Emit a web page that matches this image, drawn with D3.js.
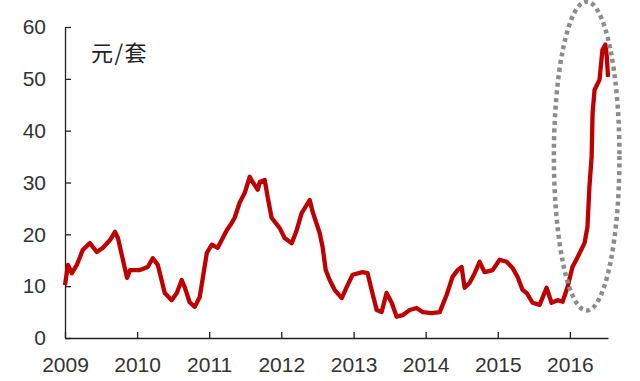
<!DOCTYPE html>
<html>
<head>
<meta charset="utf-8">
<script src="https://cdn.jsdelivr.net/npm/d3@7"></script>
<style>
  html, body { margin: 0; padding: 0; background: #fff; }
  svg { display: block; }
</style>
</head>
<body>
<div id="chart"></div>
<script>
// dates and prices
const dates = [
  '2009-01-01', '2009-01-16', '2009-02-05', '2009-03-02', '2009-04-01', '2009-05-07',
  '2009-06-11', '2009-07-12', '2009-08-17', '2009-09-11', '2009-09-26', '2009-11-11',
  '2009-11-26', '2010-01-15', '2010-02-24', '2010-03-21', '2010-04-16', '2010-05-21',
  '2010-06-25', '2010-07-21', '2010-08-15', '2010-08-30', '2010-09-24', '2010-10-20',
  '2010-11-14', '2010-12-20', '2011-01-14', '2011-02-13', '2011-03-31', '2011-04-25',
  '2011-05-10', '2011-06-04', '2011-06-30', '2011-07-25', '2011-08-09', '2011-09-04',
  '2011-09-14', '2011-10-09', '2011-10-24', '2011-11-13', '2011-12-24', '2012-01-18',
  '2012-02-23', '2012-03-19', '2012-04-13', '2012-05-24', '2012-06-08', '2012-07-13',
  '2012-07-28', '2012-08-13', '2012-09-02', '2012-09-27', '2012-11-02', '2012-11-27',
  '2012-12-27', '2013-02-16', '2013-03-13', '2013-04-02', '2013-04-28', '2013-05-23',
  '2013-06-17', '2013-07-13', '2013-08-07', '2013-09-06', '2013-10-12', '2013-11-16',
  '2013-12-16', '2014-01-31', '2014-03-13', '2014-04-17', '2014-05-17', '2014-06-12',
  '2014-07-02', '2014-07-17', '2014-08-11', '2014-09-06', '2014-10-01', '2014-10-26',
  '2014-12-06', '2015-01-10', '2015-02-15', '2015-03-17', '2015-04-11', '2015-05-06',
  '2015-05-27', '2015-06-26', '2015-08-01', '2015-09-05', '2015-09-30', '2015-10-31',
  '2015-11-25', '2015-12-20', '2016-01-14', '2016-02-09', '2016-03-15', '2016-03-30',
  '2016-04-09', '2016-04-20', '2016-04-25', '2016-05-05', '2016-05-30', '2016-06-14',
  '2016-06-29', '2016-07-06', '2016-07-12'
];
const prices = [
  10.2, 14.1, 12.5, 14.1, 17.0, 18.3,
  16.6, 17.4, 18.9, 20.5, 19.3, 11.6,
  13.1, 13.1, 13.7, 15.4, 14.1, 8.7,
  7.3, 8.7, 11.2, 9.8, 6.9, 6.0,
  7.9, 16.4, 18.0, 17.4, 20.8, 22.2,
  23.2, 26.1, 28.0, 31.1, 30.1, 28.6,
  30.1, 30.5, 27.2, 23.2, 21.2, 19.3,
  18.3, 20.8, 24.1, 26.6, 24.3, 20.3,
  17.6, 13.1, 11.2, 9.3, 7.7, 9.8,
  12.2, 12.7, 12.5, 9.3, 5.4, 5.0,
  8.7, 6.8, 4.1, 4.4, 5.4, 5.8,
  5.0, 4.8, 5.0, 8.3, 11.8, 13.1,
  13.7, 9.7, 10.6, 12.5, 14.7, 12.7,
  13.1, 15.1, 14.7, 13.5, 11.8, 9.3,
  8.7, 6.8, 6.4, 9.7, 6.8, 7.3,
  7.0, 9.8, 13.7, 15.6, 18.3, 21.4,
  29.2, 34.9, 43.4, 47.9, 49.8, 55.6,
  56.6, 54.2, 50.4
];
const yTicks = [0, 10, 20, 30, 40, 50, 60];
const xTicks = ['2009', '2010', '2011', '2012', '2013', '2014', '2015', '2016'];
const unitLabel = '元/套';
// dotted ellipse around the 2016 spike: centre date/value, half width (days), half height (value)
const highlight = { date: '2016-03-26', value: 35.1, halfDays: 166, halfValue: 29.8 };

const width = 640;
const height = 381;
const margin = { top: 27, right: 32, bottom: 43, left: 65 };
const chartWidth = width - margin.left - margin.right;
const chartHeight = height - margin.top - margin.bottom;
const parse = d3.timeParse('%Y-%m-%d');

const data = dates.map((d, i) => ({ date: parse(d), value: prices[i] }));

const svg = d3
  .select('#chart')
  .append('svg')
  .attr('width', width)
  .attr('height', height)
  .append('g')
  .attr('transform', `translate(${margin.left}, ${margin.top})`);

const x = d3
  .scaleTime()
  .range([0, chartWidth])
  .domain([parse('2009-01-01'), parse('2016-07-12')]);

const y = d3
  .scaleLinear()
  .range([chartHeight, 0])
  .domain([0, 60]);

const font = '"Liberation Sans", Arial, sans-serif';

// Y axis, ticks pointing inward
const yG = svg
  .append('g')
  .call(d3.axisLeft(y).tickValues(yTicks).tickSizeInner(-6).tickSizeOuter(0).tickPadding(19));
yG.select('.domain').attr('stroke', '#222').attr('stroke-width', 1.3);
yG.selectAll('.tick line').attr('stroke', '#222').attr('stroke-width', 1.3);
yG.selectAll('text')
  .attr('font-family', font)
  .attr('font-size', 21)
  .attr('fill', '#333');

// X axis, ticks pointing up
const xG = svg
  .append('g')
  .attr('transform', `translate(0, ${chartHeight})`)
  .call(
    d3.axisBottom(x)
      .tickValues(xTicks.map(t => parse(`${t}-01-01`)))
      .tickFormat(d3.timeFormat('%Y'))
      .tickSizeInner(-6)
      .tickSizeOuter(0)
      .tickPadding(19)
  );
xG.select('.domain').attr('stroke', '#222').attr('stroke-width', 1.3);
xG.selectAll('.tick line').attr('stroke', '#222').attr('stroke-width', 1.3);
xG.selectAll('text')
  .attr('font-family', font)
  .attr('font-size', 21)
  .attr('fill', '#333');

// unit label
svg
  .append('text')
  .attr('x', 26)
  .attr('y', 34)
  .attr('font-family', '"Noto Sans CJK SC", sans-serif')
  .attr('font-size', 22)
  .attr('letter-spacing', 1.5)
  .attr('fill', '#222')
  .text(unitLabel);

// the price line
const line = d3
  .line()
  .x(d => x(d.date))
  .y(d => y(d.value))
  .curve(d3.curveLinear);

svg
  .append('path')
  .datum(data)
  .attr('fill', 'none')
  .attr('stroke', '#c00000')
  .attr('stroke-width', 4.3)
  .attr('stroke-linejoin', 'round')
  .attr('d', line);

// dotted highlight ellipse
const hc = parse(highlight.date);
const cx = x(hc);
const rx = x(d3.timeDay.offset(hc, highlight.halfDays)) - cx;
const cy = y(highlight.value);
const ry = y(0) - y(highlight.halfValue);
svg
  .append('ellipse')
  .attr('cx', cx)
  .attr('cy', cy)
  .attr('rx', rx)
  .attr('ry', ry)
  .attr('fill', 'none')
  .attr('stroke', '#8c8c8c')
  .attr('stroke-width', 4.5)
  .attr('stroke-dasharray', '4 3.6');
</script>
</body>
</html>
